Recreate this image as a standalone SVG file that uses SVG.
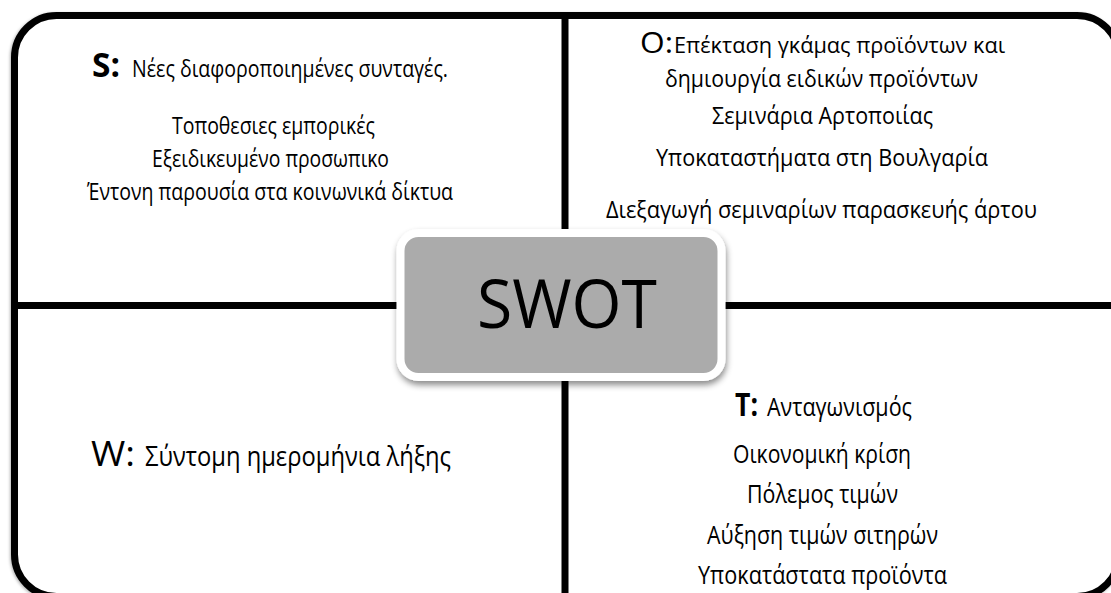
<svg xmlns="http://www.w3.org/2000/svg" width="1111" height="593" viewBox="0 0 1111 593">
  <defs>
    <filter id="frameShadow" x="-5%" y="-5%" width="110%" height="110%">
      <feDropShadow dx="-1" dy="1" stdDeviation="1.5" flood-color="#000" flood-opacity="0.3"/>
    </filter>
    <filter id="boxShadow" x="-10%" y="-15%" width="120%" height="135%">
      <feDropShadow dx="1" dy="4" stdDeviation="3" flood-color="#000" flood-opacity="0.45"/>
    </filter>
  </defs>
  <style>
    .t { font-family: "Open Sans", "Noto Sans", sans-serif; fill: #000; }
    .b { font-weight: bold; }
    .line { stroke: #000; stroke-width: 7; fill: none; }
  </style>
  <rect width="1111" height="593" fill="#fff"/>

  <g id="frame">
    <rect x="14.5" y="15.5" width="1104.5" height="581" rx="42" ry="42" fill="#fff" stroke="#000" stroke-width="7" filter="url(#frameShadow)"/>
  </g>

  <g id="connectors">
    <line class="line" x1="14" y1="305.5" x2="1119" y2="305.5"/>
    <line class="line" x1="565" y1="15" x2="565" y2="596"/>
  </g>

  <g id="strengths">
    <text class="t b" x="92" y="77" font-size="34" textLength="28" lengthAdjust="spacingAndGlyphs">S:</text>
    <text class="t" x="132" y="77" font-size="23" textLength="316" lengthAdjust="spacingAndGlyphs">Νέες διαφοροποιημένες συνταγές.</text>
    <text class="t" x="172" y="134" font-size="24.5" textLength="203" lengthAdjust="spacingAndGlyphs">Τοποθεσιες εμπορικές</text>
    <text class="t" x="152" y="167" font-size="24.5" textLength="237" lengthAdjust="spacingAndGlyphs">Εξειδικευμένο προσωπικο</text>
    <text class="t" x="87" y="200" font-size="24.5" textLength="366" lengthAdjust="spacingAndGlyphs">Έντονη παρουσία στα κοινωνικά δίκτυα</text>
  </g>

  <g id="opportunities">
    <text class="t" x="640" y="53" font-size="30" textLength="33" lengthAdjust="spacingAndGlyphs">O:</text>
    <text class="t" x="674" y="53" font-size="21" textLength="331" lengthAdjust="spacingAndGlyphs">Επέκταση γκάμας προϊόντων και</text>
    <text class="t" x="665" y="87" font-size="24" textLength="313" lengthAdjust="spacingAndGlyphs">δημιουργία ειδικών προϊόντων</text>
    <text class="t" x="712" y="124" font-size="24" textLength="221" lengthAdjust="spacingAndGlyphs">Σεμινάρια Αρτοποιίας</text>
    <text class="t" x="656" y="166" font-size="24" textLength="332" lengthAdjust="spacingAndGlyphs">Υποκαταστήματα στη Βουλγαρία</text>
    <text class="t" x="606" y="218" font-size="24" textLength="431" lengthAdjust="spacingAndGlyphs">Διεξαγωγή σεμιναρίων παρασκευής άρτου</text>
  </g>

  <g id="weaknesses">
    <text class="t" x="91" y="466" font-size="35" textLength="44" lengthAdjust="spacingAndGlyphs">W:</text>
    <text class="t" x="145" y="466" font-size="26.5" textLength="306" lengthAdjust="spacingAndGlyphs">Σύντομη ημερομήνια λήξης</text>
  </g>

  <g id="threats">
    <text class="t b" x="735" y="416" font-size="33" textLength="23" lengthAdjust="spacingAndGlyphs">T:</text>
    <text class="t" x="767" y="416" font-size="25.5" textLength="145" lengthAdjust="spacingAndGlyphs">Ανταγωνισμός</text>
    <text class="t" x="733" y="463" font-size="25.5" textLength="178" lengthAdjust="spacingAndGlyphs">Οικονομική κρίση</text>
    <text class="t" x="747" y="503" font-size="25.5" textLength="151" lengthAdjust="spacingAndGlyphs">Πόλεμος τιμών</text>
    <text class="t" x="707" y="544" font-size="25.5" textLength="231" lengthAdjust="spacingAndGlyphs">Αύξηση τιμών σιτηρών</text>
    <text class="t" x="698" y="584" font-size="25.5" textLength="249" lengthAdjust="spacingAndGlyphs">Υποκατάστατα προϊόντα</text>
  </g>

  <g id="swot">
    <rect x="400.5" y="233" width="321" height="144" rx="18" ry="18" fill="#ABABAB" stroke="#fff" stroke-width="8" filter="url(#boxShadow)"/>
    <text class="t" x="477" y="328" font-size="67" textLength="180" lengthAdjust="spacingAndGlyphs">SWOT</text>
  </g>
</svg>
